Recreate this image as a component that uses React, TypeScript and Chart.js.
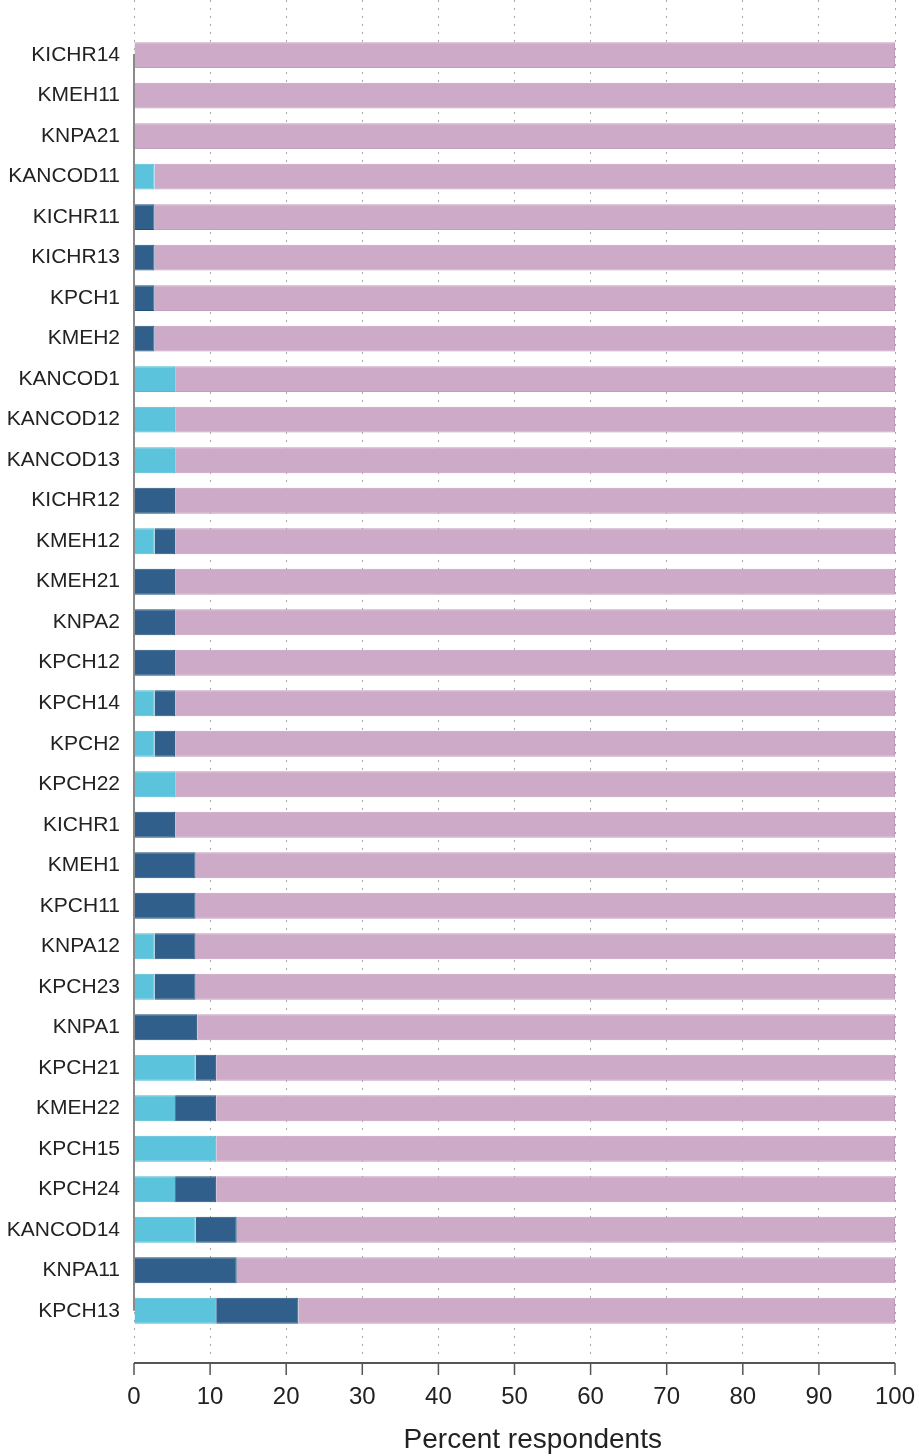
import React, { useEffect, useRef } from "react";
import { Chart, registerables } from "chart.js";

Chart.register(...registerables);

const categories = [
  "KICHR14", "KMEH11", "KNPA21", "KANCOD11", "KICHR11", "KICHR13", "KPCH1", "KMEH2",
  "KANCOD1", "KANCOD12", "KANCOD13", "KICHR12", "KMEH12", "KMEH21", "KNPA2", "KPCH12",
  "KPCH14", "KPCH2", "KPCH22", "KICHR1", "KMEH1", "KPCH11", "KNPA12", "KPCH23",
  "KNPA1", "KPCH21", "KMEH22", "KPCH15", "KPCH24", "KANCOD14", "KNPA11", "KPCH13",
];

const lightSeries = [
  0, 0, 0, 2.7, 0, 0, 0, 0,
  5.4, 5.4, 5.4, 0, 2.7, 0, 0, 0,
  2.7, 2.7, 5.4, 0, 0, 0, 2.7, 2.7,
  0, 8.1, 5.4, 10.8, 5.4, 8.1, 0, 10.8,
];

const darkSeries = [
  0, 0, 0, 0, 2.7, 2.7, 2.7, 2.7,
  0, 0, 0, 5.4, 2.7, 5.4, 5.4, 5.4,
  2.7, 2.7, 0, 5.4, 8.1, 8.1, 5.4, 5.4,
  8.3, 2.7, 5.4, 0, 5.4, 5.4, 13.5, 10.8,
];

const restSeries = categories.map((_, i) =>
  Math.round((100 - lightSeries[i] - darkSeries[i]) * 10) / 10
);

const xTicks = [0, 10, 20, 30, 40, 50, 60, 70, 80, 90, 100];
const xTitle = "Percent respondents";

const axisPlugin = {
  id: "customAxes",
  afterDraw(chart: any) {
    const { ctx, chartArea, scales } = chart;
    const x = scales.x;
    const y = scales.y;
    ctx.save();
    ctx.strokeStyle = "#8a8a8a";
    ctx.lineWidth = 2;
    ctx.beginPath();
    const x0 = x.getPixelForValue(0);
    ctx.moveTo(x0, y.getPixelForValue(0) - 1);
    ctx.lineTo(x0, y.getPixelForValue(categories.length - 1));
    ctx.stroke();
    const ay = chartArea.bottom + 6;
    ctx.strokeStyle = "#555555";
    ctx.lineWidth = 2;
    ctx.beginPath();
    ctx.moveTo(x.getPixelForValue(xTicks[0]), ay);
    ctx.lineTo(x.getPixelForValue(xTicks[xTicks.length - 1]), ay);
    ctx.stroke();
    ctx.lineWidth = 1.5;
    ctx.beginPath();
    for (const t of xTicks) {
      const px = x.getPixelForValue(t);
      ctx.moveTo(px, ay);
      ctx.lineTo(px, ay + 12);
    }
    ctx.stroke();
    // axis title
    ctx.fillStyle = "#222222";
    ctx.font = "28px 'Liberation Sans', Arial, sans-serif";
    ctx.textAlign = "center";
    ctx.textBaseline = "alphabetic";
    ctx.fillText(xTitle, x.getPixelForValue(52.4), x.bottom - 8);
    ctx.restore();
  },
};

const zeroPadding = (scale: any) => {
  scale.paddingTop = 0;
  scale.paddingBottom = 0;
  scale.paddingLeft = 0;
  scale.paddingRight = 0;
};

export default function App() {
  const ref = useRef<HTMLCanvasElement | null>(null);

  useEffect(() => {
    document.body.style.margin = "0";
    if (!ref.current) return;
    Chart.defaults.font.family = "'Liberation Sans', Arial, sans-serif";
    const toPts = (arr: number[]) => arr.map((v, i) => ({ x: v, y: i }));
    const chart = new Chart(ref.current, {
      type: "bar",
      data: {
        datasets: [
          {
            label: "A",
            data: toPts(lightSeries),
            backgroundColor: "#5bc4dc",
            borderColor: "#4fbad4",
            borderWidth: 1,
          },
          {
            label: "B",
            data: toPts(darkSeries),
            backgroundColor: "#2f5f8a",
            borderColor: "#23507a",
            borderWidth: 1,
          },
          {
            label: "C",
            data: toPts(restSeries),
            backgroundColor: "#cdaac7",
            borderColor: "#c39dbd",
            borderWidth: 1,
          },
        ],
      },
      options: {
        indexAxis: "y",
        responsive: false,
        animation: false,
        devicePixelRatio: 1,
        layout: { padding: { top: 0, right: 24, bottom: 0, left: 0 } },
        categoryPercentage: 0.8,
        barPercentage: 0.8,
        plugins: {
          legend: { display: false },
          tooltip: { enabled: false },
        },
        scales: {
          x: {
            type: "linear",
            stacked: true,
            min: 0,
            max: 100,
            afterBuildTicks: (scale: any) => {
              scale.ticks = xTicks.map((v) => ({ value: v }));
            },
            afterFit: (scale: any) => {
              scale.height = 99;
              zeroPadding(scale);
            },
            grid: {
              color: "#a8a8a8",
              lineWidth: 1,
              drawTicks: false,
            },
            border: { display: false, dash: [2, 6] },
            ticks: {
              padding: 26,
              color: "#222222",
              font: { size: 24 },
              maxRotation: 0,
            },
            title: { display: false },
          },
          y: {
            type: "linear",
            stacked: true,
            reverse: true,
            offset: false,
            min: -1.36,
            max: 32.14,
            afterBuildTicks: (scale: any) => {
              scale.ticks = categories.map((_, i) => ({ value: i }));
            },
            afterFit: (scale: any) => {
              scale.width = 134;
              zeroPadding(scale);
            },
            grid: { display: false, drawTicks: false, offset: false },
            border: { display: false },
            ticks: {
              autoSkip: false,
              padding: 14,
              color: "#222222",
              font: { size: 21 },
              callback: (v: any) => categories[v as number] ?? "",
            },
          },
        },
      } as any,
      plugins: [axisPlugin],
    });
    return () => chart.destroy();
  }, []);

  return (
    <canvas
      ref={ref}
      width={919}
      height={1456}
      style={{ display: "block", width: 919, height: 1456 }}
    />
  );
}
